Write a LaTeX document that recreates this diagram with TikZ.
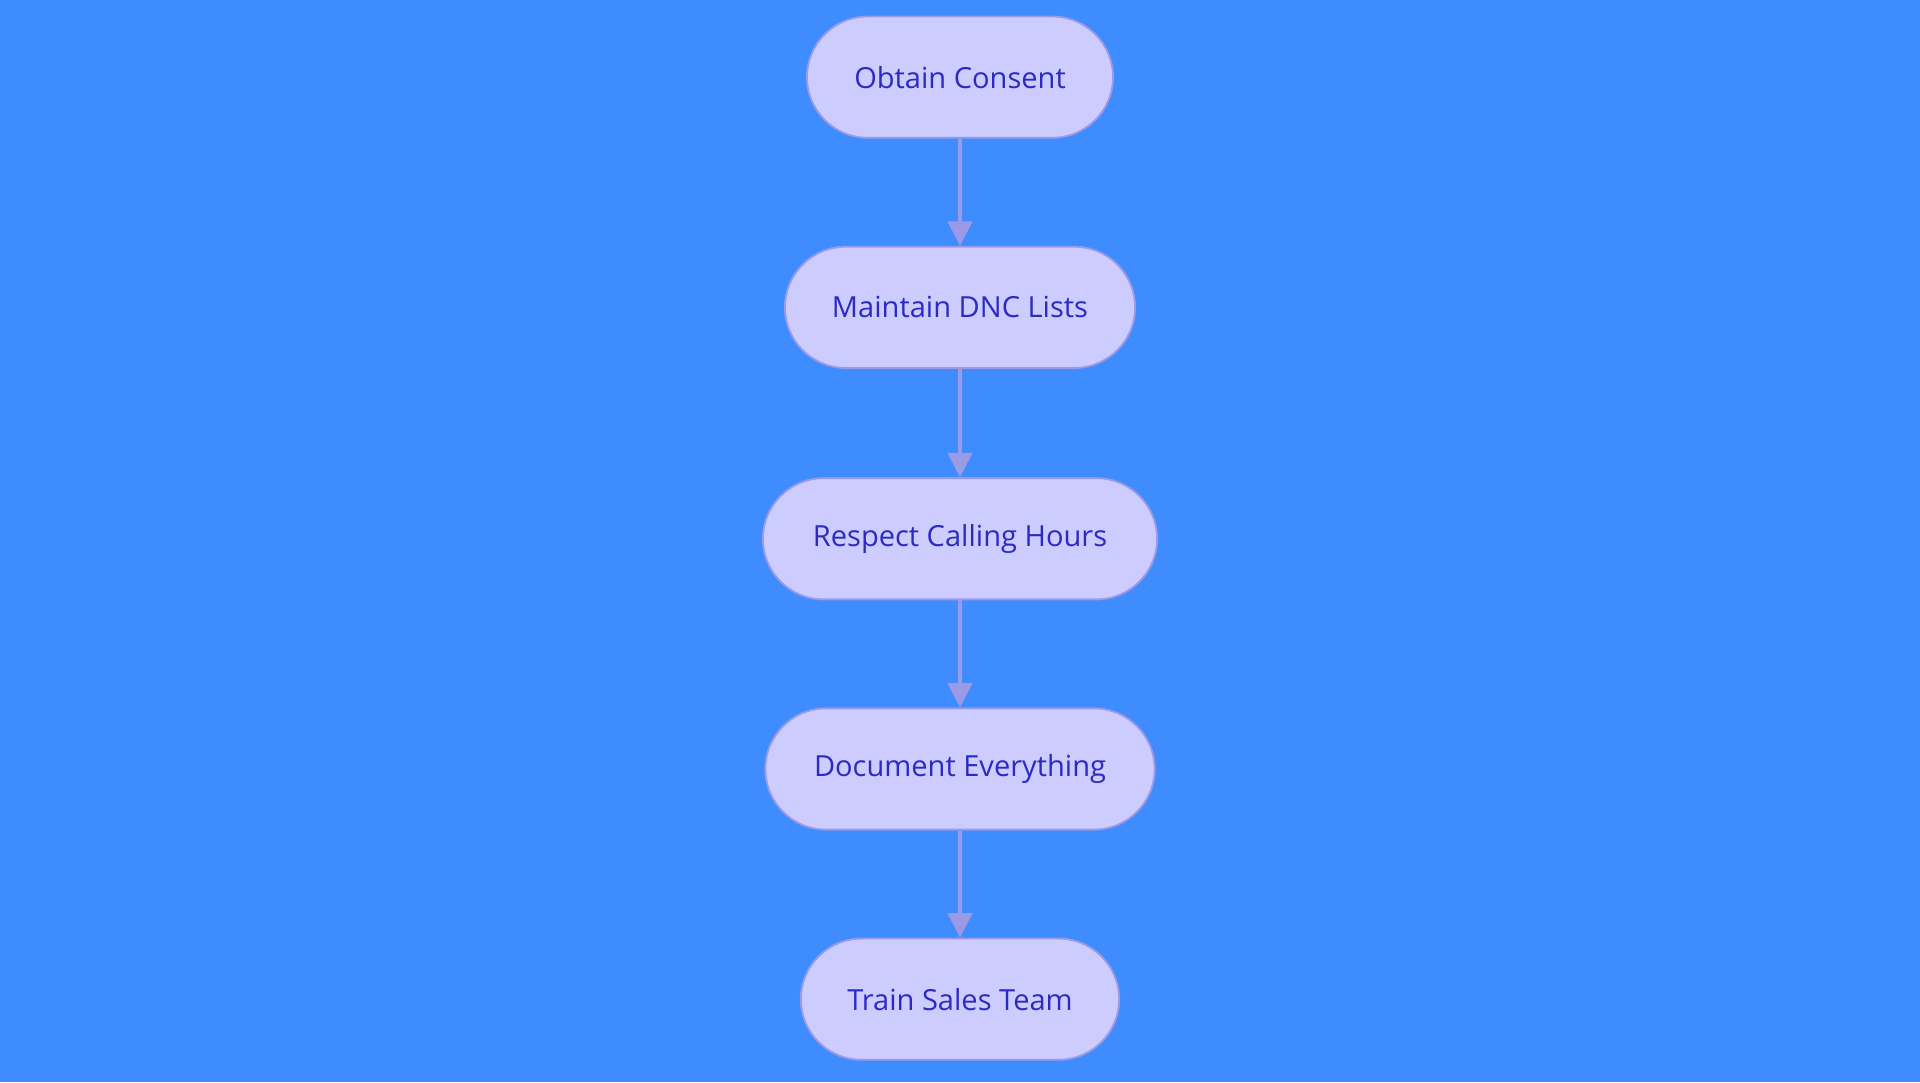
\documentclass[tikz,border=0pt]{standalone}
\usepackage{fontspec}
\setmainfont{Open Sans}
\usetikzlibrary{arrows.meta}
\definecolor{bgblue}{HTML}{3F8CFF}
\definecolor{stepfill}{HTML}{CCCCFF}
\definecolor{stepline}{HTML}{9A9AE6}
\definecolor{steptext}{HTML}{2B2BC4}
\tikzset{
  flowstep/.style={draw=stepline, line width=0.03cm, fill=stepfill, rounded corners=0.99cm,
    minimum height=1.98cm, text=steptext, font=\fontsize{13.5}{16}\selectfont},
  flow/.style={draw=stepline, line width=0.05cm, -{Triangle[length=0.4cm,width=0.4cm]}}
}
\begin{document}
\begin{tikzpicture}
% background, 1568 x 884 px at 0.02cm per px
\fill [bgblue] (0,0) rectangle (31.36,-17.68);

% Marking the steps
\node [flowstep, minimum width=5.00cm] (consent) at (15.68,-1.26) {Obtain Consent};
\node [flowstep, minimum width=5.72cm] (dnc) at (15.68,-5.02) {Maintain DNC Lists};
\node [flowstep, minimum width=6.44cm] (hours) at (15.68,-8.80) {Respect Calling Hours};
\node [flowstep, minimum width=6.36cm] (document) at (15.68,-12.56) {Document Everything};
\node [flowstep, minimum width=5.20cm] (train) at (15.68,-16.32) {Train Sales Team};

% Drawing connectors
\draw [flow] (consent) -- (dnc);
\draw [flow] (dnc) -- (hours);
\draw [flow] (hours) -- (document);
\draw [flow] (document) -- (train);
\end{tikzpicture}
\end{document}
